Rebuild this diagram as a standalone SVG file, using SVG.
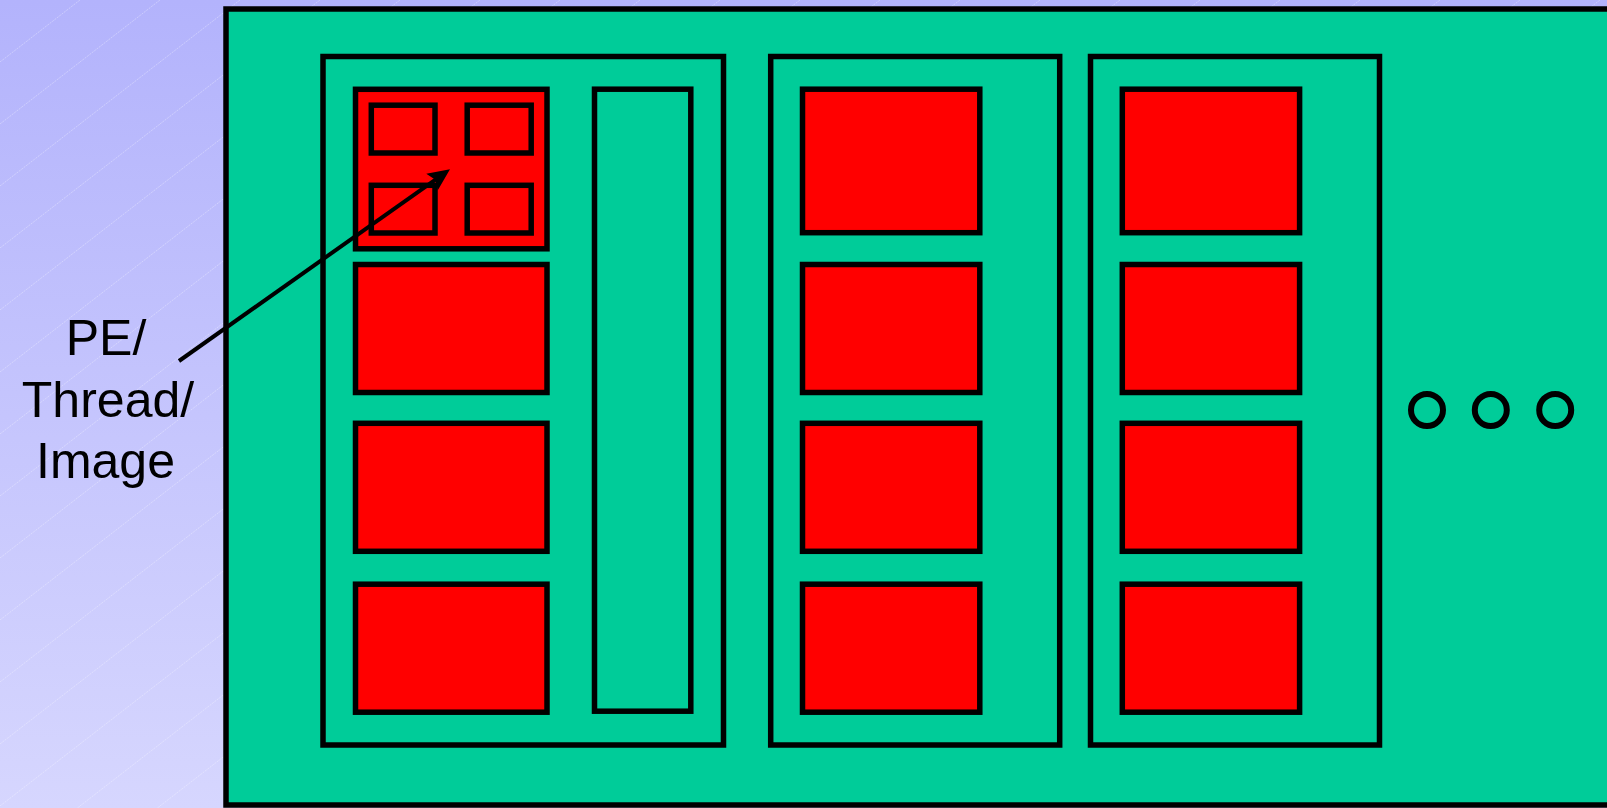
<svg xmlns="http://www.w3.org/2000/svg" width="1607" height="808" viewBox="0 0 1607 808">
<defs>
<linearGradient id="bg" x1="0" y1="0" x2="0" y2="1">
<stop offset="0" stop-color="#b3b3fc"/>
<stop offset="1" stop-color="#d6d6fe"/>
</linearGradient>
<pattern id="stripes" width="80" height="62" patternUnits="userSpaceOnUse">
<path d="M0,62 L80,0" stroke="#ffffff" stroke-opacity="0.45" stroke-width="0.7" stroke-dasharray="2 1" fill="none"/>
</pattern>
<style>
.box{stroke:#000;stroke-width:5.5}
.green{fill:#00cc99}
.red{fill:#ff0000}
.dot{fill:none;stroke:#000;stroke-width:6}
.label{font-family:"Liberation Sans",Arial,sans-serif;font-size:50px;fill:#000;text-anchor:middle}
</style>
</defs>
<rect width="1607" height="808" fill="url(#bg)"/>
<rect width="1607" height="808" fill="url(#stripes)"/>
<g id="machine">
<rect class="box green" x="226" y="9" width="1390" height="796"/>
</g>
<g id="node1">
<rect class="box green" x="323" y="56.5" width="400.5" height="688.5"/>
<g id="pe1-1">
<rect class="box red" x="355.5" y="89.3" width="191.5" height="159.5"/>
<rect class="box red" x="371.3" y="105.2" width="63.7" height="47.8"/>
<rect class="box red" x="467.2" y="105.2" width="64" height="47.8"/>
<rect class="box red" x="371.3" y="185.3" width="63.7" height="47.7"/>
<rect class="box red" x="467.2" y="185.3" width="64" height="47.7"/>
</g>
<rect id="pe1-2" class="box red" x="355.5" y="264.5" width="191.5" height="128"/>
<rect id="pe1-3" class="box red" x="355.5" y="423.3" width="191.5" height="128"/>
<rect id="pe1-4" class="box red" x="355.5" y="584.2" width="191.5" height="128"/>
<rect id="mem1" class="box green" x="594.5" y="89.2" width="96.3" height="622"/>
</g>
<g id="node2">
<rect class="box green" x="770.7" y="56.5" width="289" height="688.5"/>
<rect class="box red" x="802.5" y="89.2" width="177.3" height="143.5"/>
<rect class="box red" x="802.5" y="264.5" width="177.3" height="128"/>
<rect class="box red" x="802.5" y="423.3" width="177.3" height="128"/>
<rect class="box red" x="802.5" y="584.2" width="177.3" height="128"/>
</g>
<g id="node3">
<rect class="box green" x="1090.5" y="56.5" width="289" height="688.5"/>
<rect class="box red" x="1122.3" y="89.2" width="177.3" height="143.5"/>
<rect class="box red" x="1122.3" y="264.5" width="177.3" height="128"/>
<rect class="box red" x="1122.3" y="423.3" width="177.3" height="128"/>
<rect class="box red" x="1122.3" y="584.2" width="177.3" height="128"/>
</g>
<g id="ellipsis">
<circle class="dot" cx="1427" cy="410" r="16"/>
<circle class="dot" cx="1490.8" cy="410" r="16"/>
<circle class="dot" cx="1555.2" cy="410" r="16"/>
</g>
<g id="label">
<text class="label" x="106" y="355">PE/</text>
<text class="label" x="108" y="417">Thread/</text>
<text class="label" x="105.5" y="478">Image</text>
</g>
<g id="connectors">
<line x1="179" y1="361" x2="438" y2="177.8" stroke="#000" stroke-width="4"/>
<polygon points="450,169.3 437.8,190.2 435.3,179.7 426.3,173.8" fill="#000"/>
</g>
</svg>
